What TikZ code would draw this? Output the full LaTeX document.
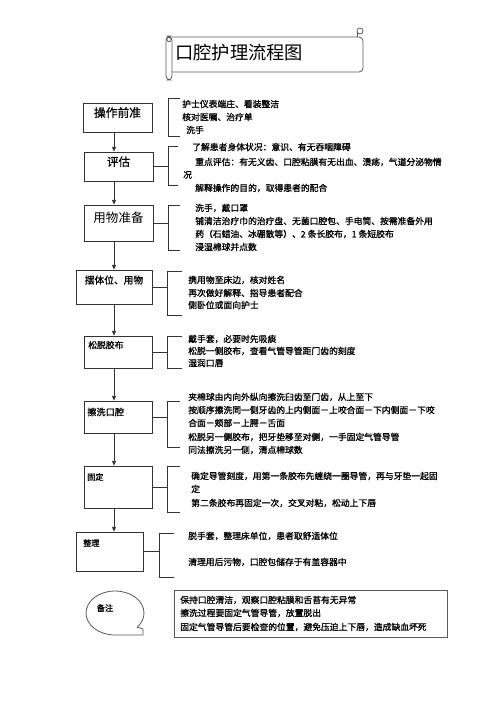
\documentclass[tikz,border=0pt]{standalone}
\usepackage{fontspec}
\setmainfont{Noto Sans CJK SC}
\newfontfamily\bodyf{Noto Sans CJK SC}[RawFeature={embolden=1.2}]
\usetikzlibrary{arrows.meta,fit}
\tikzset{
  box/.style={draw=black!80, line width=0.6pt, inner sep=0pt},
  ln/.style={anchor=west, inner sep=0pt, font=\bodyf\fontsize{6.6}{8}\selectfont},
  arr/.style={draw=black!80, line width=0.6pt, -{Triangle[length=3.5pt,width=3pt]}},
  brk/.style={draw=black!80, line width=0.6pt},
  thin/.style={draw=black!65, line width=0.6pt},
}
\begin{document}
\begin{tikzpicture}[x=0.75pt,y=-0.75pt]
\useasboundingbox[fill=white] (0,0) rectangle (500,707);

% title scroll
\draw[thin, fill=white, rounded corners=3] (172,37) -- (363,37) -- (363,72) -- (172,72);
\draw[thin, fill=white] (357,37) -- (357,31);
\draw[thin, fill=white] (360,31) circle[radius=3];
\draw[thin, fill=white, rounded corners=3] (172,36) -- (172,80) -- (166,80) -- (166,36) -- cycle;
\draw[thin] (169,39.5) circle[radius=2.2];
\node[anchor=west, inner sep=0pt, font=\fontsize{13.7}{15}\selectfont] (title) at (175,53) {口腔护理流程图};

% boxes
\node[box, fit={(83,103) (152,132)}, font=\bodyf\fontsize{8.8}{10}\selectfont] (b1) {操作前准};
\node[box, fit={(84,152) (153,181)}, font=\bodyf\fontsize{8.6}{10}\selectfont] (b2) {评估};
\node[box, fit={(84,205) (153,241)}, font=\fontsize{9.4}{11}\selectfont] (b3) {用物准备};
\node[box, fit={(76,270) (152,304)}] (b4) {};
\node[inner sep=0pt, font=\bodyf\fontsize{7.3}{9}\selectfont] (t4) at (114,280) {摆体位、用物};
\node[box, fit={(84,336) (152,368)}] (b5) {};
\node[anchor=west, inner sep=0pt, font=\bodyf\fontsize{6.6}{8}\selectfont] (t5) at (88,345) {松脱胶布};
\node[box, fit={(84,401) (152,433)}] (b6) {};
\node[anchor=west, inner sep=0pt, font=\bodyf\fontsize{6.9}{8}\selectfont] (t6) at (87,412) {擦洗口腔};
\node[box, fit={(84,466) (152,508)}] (b7) {};
\node[anchor=west, inner sep=0pt, font=\bodyf\fontsize{6.1}{8}\selectfont] (t7) at (87,477) {固定};
\node[box, fit={(76,532) (143,571)}] (b8) {};
\node[anchor=west, inner sep=0pt, font=\bodyf\fontsize{6.1}{8}\selectfont] (t8) at (83,543) {整理};

% arrows
\coordinate (ax) at (114,100);
\draw[arr] (b1.south -| ax) -- (b2.north -| ax);
\draw[arr] (b2.south -| ax) -- (b3.north -| ax);
\draw[arr] (b3.south -| ax) -- (b4.north -| ax);
\draw[arr] (b4.south -| ax) -- (b5.north -| ax);
\draw[arr] (b5.south -| ax) -- (b6.north -| ax);
\draw[arr] (b6.south -| ax) -- (b7.north -| ax);
\draw[arr] (b7.south -| ax) -- (b8.north -| ax);

% brackets
\coordinate (k1) at (168,98);
\coordinate (k2) at (168,146);
\coordinate (k3) at (168,205);
\coordinate (k4) at (167,271);
\coordinate (k5) at (167,336);
\coordinate (k6) at (167,401);
\coordinate (k7) at (167,466);
\coordinate (k8) at (159,533);
\draw[brk] (180,98) -- (k1) -- (168,136) -- (180,136);
\draw[brk] (178,146) -- (k2) -- (168,185) -- (178,185);
\draw[brk] (180,205) -- (k3) -- (168,250) -- (180,250);
\draw[brk] (182,271) -- (k4) -- (167,315) -- (182,315);
\draw[brk] (182,336) -- (k5) -- (167,368) -- (182,368);
\draw[brk] (180,401) -- (k6) -- (167,447) -- (180,447);
\draw[brk] (180,466) -- (k7) -- (167,512) -- (180,512);
\draw[brk] (174,533) -- (k8) -- (159,577) -- (174,577);
\draw[brk] (b2.east) -- (b2.east -| k2);
\draw[brk] (b3.east) -- (b3.east -| k3);
\draw[brk] (b4.east) -- (b4.east -| k4);
\draw[brk] (b5.east) -- (b5.east -| k5);
\draw[brk] (b6.east) -- (b6.east -| k6);
\draw[brk] (b7.east) -- (b7.east -| k7);
\draw[brk] (b8.east) -- (b8.east -| k8);

% texts
\node[ln] (g1a) at (182,104) {护士仪表端庄、看装整洁};
\node[ln] (g1b) at (182,117) {核对医嘱、治疗单};
\node[ln] (g1c) at (186,130) {洗手};

\node[ln] (g2a) at (192,147) {了解患者身体状况：意识、有无吞咽障碍};
\node[ln] (g2b) at (195,162) {重点评估：有无义齿、口腔粘膜有无出血、溃疡，气道分泌物情};
\node[ln] (g2c) at (183,175) {况};
\node[ln] (g2d) at (195,188) {解释操作的目的，取得患者的配合};

\node[ln] (g3a) at (195,208) {洗手，戴口罩};
\node[ln] (g3b) at (195,221) {铺清洁治疗巾的治疗盘、无菌口腔包、手电筒、按需准备外用};
\node[ln] (g3c) at (195,234) {药（石蜡油、冰硼散等）、2 条长胶布，1 条短胶布};
\node[ln] (g3d) at (195,247) {浸湿棉球并点数};

\node[ln] (g4a) at (188,280) {携用物至床边，核对姓名};
\node[ln] (g4b) at (188,293) {再次做好解释、指导患者配合};
\node[ln] (g4c) at (188,305) {侧卧位或面向护士};

\node[ln] (g5a) at (188,339) {戴手套，必要时先吸痰};
\node[ln] (g5b) at (188,351) {松脱一侧胶布，查看气管导管距门齿的刻度};
\node[ln] (g5c) at (188,363) {湿润口唇};

\node[ln] (g6a) at (188,397) {夹棉球由内向外纵向擦洗臼齿至门齿，从上至下};
\node[ln] (g6b) at (188,410) {按顺序擦洗同一侧牙齿的上内侧面－上咬合面－下内侧面－下咬};
\node[ln] (g6c) at (188,423) {合面－颊部－上腭－舌面};
\node[ln] (g6d) at (188,437) {松脱另一侧胶布，把牙垫移至对侧，一手固定气管导管};
\node[ln] (g6e) at (188,450) {同法擦洗另一侧，清点棉球数};

\node[ln] (g7a) at (191,476) {确定导管刻度，用第一条胶布先缠绕一圈导管，再与牙垫一起固};
\node[ln] (g7b) at (191,489) {定};
\node[ln] (g7c) at (191,503) {第二条胶布再固定一次，交叉对粘，松动上下唇};

\node[ln] (g8a) at (188,536) {脱手套，整理床单位，患者取舒适体位};
\node[ln] (g8b) at (188,562) {清理用后污物，口腔包储存于有盖容器中};

% notes
\draw[thin] (143,635) -- (115,635) arc[start angle=90, end angle=400, x radius=29, y radius=22] -- (143,629) -- cycle;
\node[inner sep=0pt, font=\bodyf\fontsize{6.1}{8}\selectfont] (bz) at (105,608) {备注};
\node[box, draw=black!65, fit={(174,590) (447,637)}] (nb) {};
\node[ln] (n1) at (180,600) {保持口腔清洁，观察口腔粘膜和舌苔有无异常};
\node[ln] (n2) at (180,613) {擦洗过程要固定气管导管，放置脱出};
\node[ln] (n3) at (180,627) {固定气管导管后要检查的位置，避免压迫上下唇，造成缺血坏死};
\end{tikzpicture}
\end{document}
